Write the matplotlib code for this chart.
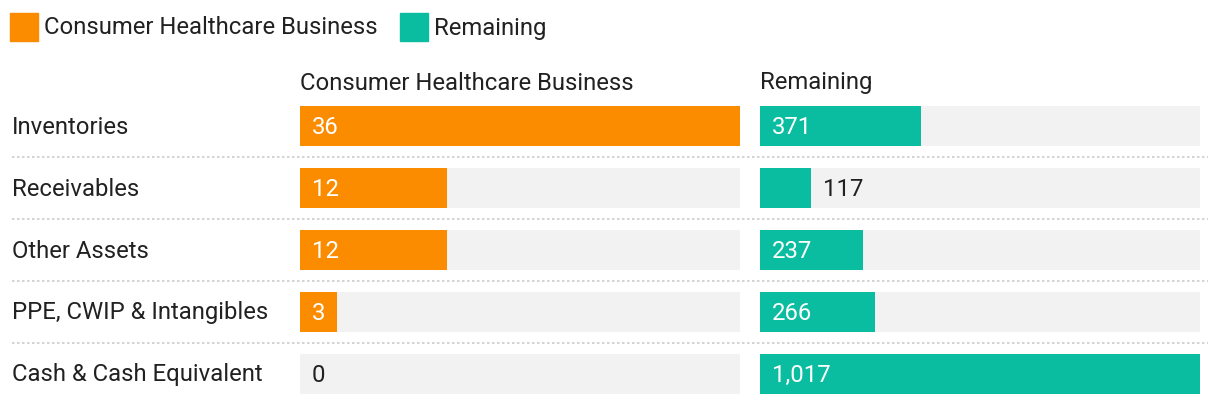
import matplotlib.pyplot as plt
from matplotlib.patches import Rectangle
from matplotlib.transforms import blended_transform_factory

plt.rcParams['font.family'] = ['Roboto', 'DejaVu Sans']

categories = ['Inventories', 'Receivables', 'Other Assets',
              'PPE, CWIP & Intangibles', 'Cash & Cash Equivalent']
consumer = [36, 12, 12, 3, 0]
remaining = [371, 117, 237, 266, 1017]
series_names = ['Consumer Healthcare Business', 'Remaining']

ORANGE = '#fb8c00'
TEAL = '#0abda0'
BG = '#f2f2f2'
TXT = '#212121'
FS = 17.2

W, H = 1220, 406
fig = plt.figure(figsize=(W / 100, H / 100), dpi=100)

def px_axes(x0, x1, ytop, ybot):
    return fig.add_axes([x0 / W, 1 - ybot / H, (x1 - x0) / W, (ybot - ytop) / H])

ax1 = px_axes(300, 740, 96, 406)
ax2 = px_axes(760, 1200, 96, 406)

def fmt(v):
    return f'{v:,}'

for ax, vals, color in ((ax1, consumer, ORANGE), (ax2, remaining, TEAL)):
    vmax = max(vals)
    ypos = range(len(categories))
    ax.barh(ypos, [vmax] * len(vals), height=40 / 62, color=BG, zorder=1)
    ax.barh(ypos, vals, height=40 / 62, color=color, zorder=2)
    ax.set_xlim(0, vmax)
    ax.set_ylim(len(categories) - 0.5, -0.5)
    ax.axis('off')
    # label inside bar if it fits, otherwise just after the bar end
    pad = 12 * vmax / 440
    for i, v in enumerate(vals):
        label = fmt(v)
        need = (len(label) * 11 + 24) * vmax / 440
        if v >= need:
            ax.text(pad, i, label, color='white', fontsize=FS, va='center', ha='left', zorder=3)
        else:
            ax.text(v + pad, i, label, color=TXT, fontsize=FS, va='center', ha='left', zorder=3)

# row labels and dotted separators
tr = blended_transform_factory(fig.transFigure, ax1.transData)
for i, c in enumerate(categories):
    ax1.text(12 / W, i, c, transform=tr, fontsize=FS, color=TXT, va='center', ha='left', clip_on=False)
for i in range(len(categories) - 1):
    ax1.plot([12 / W, 1208 / W], [i + 0.5, i + 0.5], transform=tr, color='#cccccc',
             lw=1.2, ls=(0, (1.5, 1.5)), clip_on=False)

# column headers
fig.text(300 / W, 1 - 83 / H, series_names[0], fontsize=FS, color=TXT, va='center', ha='left')
fig.text(760 / W, 1 - 83 / H, series_names[1], fontsize=FS, color=TXT, va='center', ha='left')

# legend
for x0, name, color in ((10, series_names[0], ORANGE), (400, series_names[1], TEAL)):
    fig.patches.append(Rectangle((x0 / W, 1 - 42 / H), 28 / W, 28 / H,
                                 transform=fig.transFigure, color=color))
    fig.text((x0 + 34) / W, 1 - 28 / H, name, fontsize=FS, color=TXT, va='center', ha='left')

fig.savefig('out.png', dpi=100)
